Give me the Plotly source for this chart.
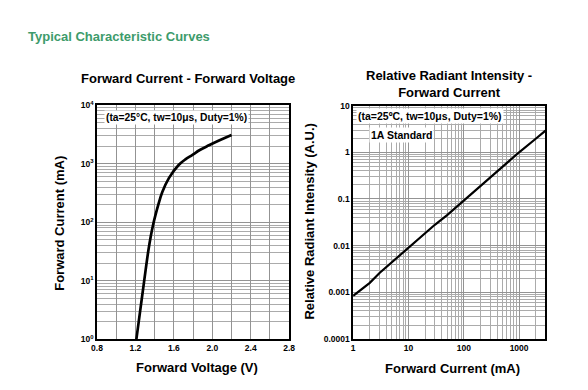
import plotly.graph_objects as go

# Left chart: Forward Current vs Forward Voltage
vf_volts = [1.21, 1.25, 1.29, 1.335, 1.36, 1.385, 1.41, 1.44, 1.48, 1.55, 1.65, 1.72, 1.79, 1.87, 1.96, 2.07, 2.2]
if_ma = [1, 3.1, 9.6, 33, 58, 92, 135, 205, 330, 575, 955, 1190, 1410, 1720, 2050, 2500, 3100]

# Right chart: Relative Radiant Intensity vs Forward Current
ifr_ma = [1, 2, 3, 5, 10, 20, 30, 50, 100, 200, 300, 500, 1000, 2000, 3000]
rel_int = [0.00084, 0.0016, 0.0026, 0.0044, 0.0087, 0.018, 0.028, 0.045, 0.092, 0.19, 0.29, 0.49, 1.0, 1.95, 2.9]

left_xticks = [0.8, 1.0, 1.2, 1.4, 1.6, 1.8, 2.0, 2.2, 2.4, 2.6, 2.8]
left_xlabels = ["0.8", "", "1.2", "", "1.6", "", "2.0", "", "2.4", "", "2.8"]
left_yticks = [1, 10, 100, 1000, 10000]
left_ylabels = ["10<sup>0</sup>", "10<sup>1</sup>", "10<sup>2</sup>", "10<sup>3</sup>", "10<sup>4</sup>"]
right_xticks = [1, 10, 100, 1000]
right_xlabels = ["1", "10", "100", "1000"]
right_yticks = [0.0001, 0.001, 0.01, 0.1, 1, 10]
right_ylabels = ["0.0001", "0.001", "0.01", "0.1", "1", "10"]

FONT = "Liberation Sans, Arial, sans-serif"

left_minor_y = [m * 10 ** k for k in range(4) for m in range(2, 10)]
right_minor_x = [m * 10 ** k for k in range(4) for m in range(2, 10) if m * 10 ** k <= 3000]
right_minor_y = [m * 10.0 ** k for k in range(-4, 1) for m in range(2, 10)]

# page body has an 8px default margin: size the figure so it fills the window
OFF = 8.0
W, H = 588.0 - OFF, 390.0 - OFF

def px(x):
    return (x - OFF) / W

def py(y):
    return 1 - (y - OFF) / H

fig = go.Figure()
fig.add_trace(go.Scatter(x=vf_volts, y=if_ma, mode="lines", line=dict(color="black", width=2.7, shape="spline", smoothing=1.0),
                         xaxis="x", yaxis="y", showlegend=False))
fig.add_trace(go.Scatter(x=ifr_ma, y=rel_int, mode="lines", line=dict(color="black", width=2.2),
                         xaxis="x2", yaxis="y2", showlegend=False))

tickfont = dict(family=FONT, size=8.5, color="black", weight="bold")
grid = "#939393"
minor_grid = "#ababab"
axis_common = dict(showline=True, mirror=True, linecolor="black", linewidth=1.5, ticks="",
                   showgrid=True, gridcolor=grid, gridwidth=1, zeroline=False, tickfont=tickfont)

fig.update_layout(
    width=W, height=H,
    margin=dict(l=0, r=0, t=0, b=0),
    paper_bgcolor="white", plot_bgcolor="white",
    xaxis=dict(domain=[px(92.7), px(289)], range=[0.8, 2.8], tickmode="array",
               tickvals=left_xticks, ticktext=left_xlabels, anchor="y", **axis_common),
    yaxis=dict(domain=[py(343), py(102)], type="log", range=[0, 4], tickmode="array",
               tickvals=left_yticks, ticktext=left_ylabels, anchor="x",
               minor=dict(tickvals=left_minor_y, showgrid=True, gridcolor=minor_grid, gridwidth=1, ticks=""),
               **axis_common),
    xaxis2=dict(domain=[px(354.3), px(550.7)], type="log", range=[0, 3.477], tickmode="array",
                tickvals=right_xticks, ticktext=right_xlabels, anchor="y2",
                minor=dict(tickvals=right_minor_x, showgrid=True, gridcolor=minor_grid, gridwidth=1, ticks=""),
                **axis_common),
    yaxis2=dict(domain=[py(342.7), py(102.3)], type="log", range=[-4, 1], tickmode="array",
                tickvals=right_yticks, ticktext=right_ylabels, anchor="x2",
                minor=dict(tickvals=right_minor_y, showgrid=True, gridcolor=minor_grid, gridwidth=1, ticks=""),
                **axis_common),
)

def ann(text, x, y, size=13, color="black", angle=0, xanchor="center", bg=None):
    d = dict(text=text, x=px(x), y=py(y), xref="paper", yref="paper", showarrow=False, textangle=angle,
             xanchor=xanchor, yanchor="middle",
             font=dict(family=FONT, size=size, color=color, weight="bold"))
    if bg:
        d["bgcolor"] = bg
        d["borderpad"] = 1
    fig.add_annotation(**d)

ann("Typical Characteristic Curves", 20, 31.5, size=13, color="#3d9b6b", xanchor="left")
ann("Forward Current - Forward Voltage", 186, 74)
ann("Relative Radiant Intensity -<br>Forward Current", 452, 80)
ann("Forward Current (mA)", 55, 224, angle=-90)
ann("Relative Radiant Intensity (A.U.)", 310, 222, angle=-90)
ann("Forward Voltage (V)", 195, 372)
ann("Forward Current (mA)", 456, 373)
ann("(ta=25°C, tw=10μs, Duty=1%)", 100, 115, size=10.3, xanchor="left", bg="white")
ann("(ta=25ºC, tw=10μs, Duty=1%)", 357, 113.5, size=10.5, xanchor="left", bg="white")
ann("1A Standard", 371, 132.5, size=10.5, xanchor="left", bg="white")

fig.write_html("out.html")
